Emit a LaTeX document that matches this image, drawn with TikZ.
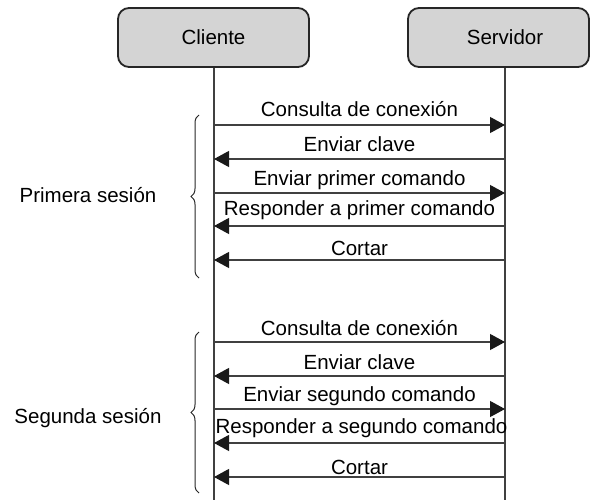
\documentclass[tikz,border=0pt]{standalone}
\usepackage{fontspec}
\setmainfont{Liberation Sans}
\usetikzlibrary{arrows.meta, decorations.pathreplacing, positioning}
\definecolor{boxgray}{HTML}{D4D4D4}
\definecolor{linegray}{HTML}{404040}
\tikzset{
  actor/.style={draw=black!85, line width=1.8pt, fill=boxgray, rounded corners=11pt,
    minimum height=59pt, inner sep=0pt, font=\fontsize{20.5}{25}\selectfont}
}
\tikzset{
  lifeline/.style={draw=linegray, line width=1.3pt},
  msg/.style={draw=linegray, line width=1.1pt, -{Triangle[length=15pt,width=16pt,color=black!90]}},
  msgtext/.style={anchor=base, inner sep=0pt, yshift=8pt, font=\fontsize{20.5}{25}\selectfont},
  sessbrace/.style={draw=black!85, line width=1pt, decorate, decoration={brace, amplitude=8pt}},
  sesstext/.style={inner sep=0pt, font=\fontsize{20.5}{25}\selectfont}
}

\begin{document}
\begin{tikzpicture}[x=1pt, y=-1pt]
      \useasboundingbox (0,0) rectangle (591,500);
      % participants
      \node[actor, minimum width=191pt] (cli) at (213.5,37.5) {Cliente};
      \node[actor, minimum width=181pt] (srv) at (498.5,37.5) {\hspace*{13pt}Servidor};
      % lifelines
      \coordinate (cliend) at (214,500);
      \coordinate (srvend) at (505,500);
      \draw[lifeline] (cliend |- cli.south) -- (cliend);
      \draw[lifeline] (srvend |- srv.south) -- (srvend);
      % rows of the messages on both lifelines
      \foreach \n/\y in {1/125, 2/159, 3/193, 4/226, 5/260, 6/342, 7/376, 8/409, 9/443, 10/477} {
        \coordinate (c\n) at (214,\y);
        \coordinate (s\n) at (505,\y);
      }
      % first session
      \draw[msg] (c1) -- (s1) node[msgtext, midway] {Consulta de conexión};
      \draw[msg] (s2) -- (c2) node[msgtext, midway] {Enviar clave};
      \draw[msg] (c3) -- (s3) node[msgtext, midway] {Enviar primer comando};
      \draw[msg] (s4) -- (c4) node[msgtext, midway, yshift=3pt] {Responder a primer comando};
      \draw[msg] (s5) -- (c5) node[msgtext, midway, yshift=-3pt] {Cortar};
      % second session
      \draw[msg] (c6) -- (s6) node[msgtext, midway, yshift=-1pt] {Consulta de conexión};
      \draw[msg] (s7) -- (c7) node[msgtext, midway, yshift=-1pt] {Enviar clave};
      \draw[msg] (c8) -- (s8) node[msgtext, midway] {Enviar segundo comando};
      \draw[msg] (s9) -- (c9) node[msgtext, midway, xshift=2pt, yshift=2pt] {Responder a segundo comando};
      \draw[msg] (s10) -- (c10) node[msgtext, midway, yshift=-5pt] {Cortar};
      % braces and session labels
      \coordinate (b1top) at (199,115);
      \coordinate (b1bot) at (199,278);
      \coordinate (b2top) at (199,332);
      \coordinate (b2bot) at (199,493);
      \draw[sessbrace] (b1bot) -- (b1top);
      \draw[sessbrace] (b2bot) -- (b2top);
      \node[sesstext] (ses1) at (88,195) {Primera sesión};
      \node[sesstext] (ses2) at (88,418) {Segunda sesión};
\end{tikzpicture}
\end{document}
